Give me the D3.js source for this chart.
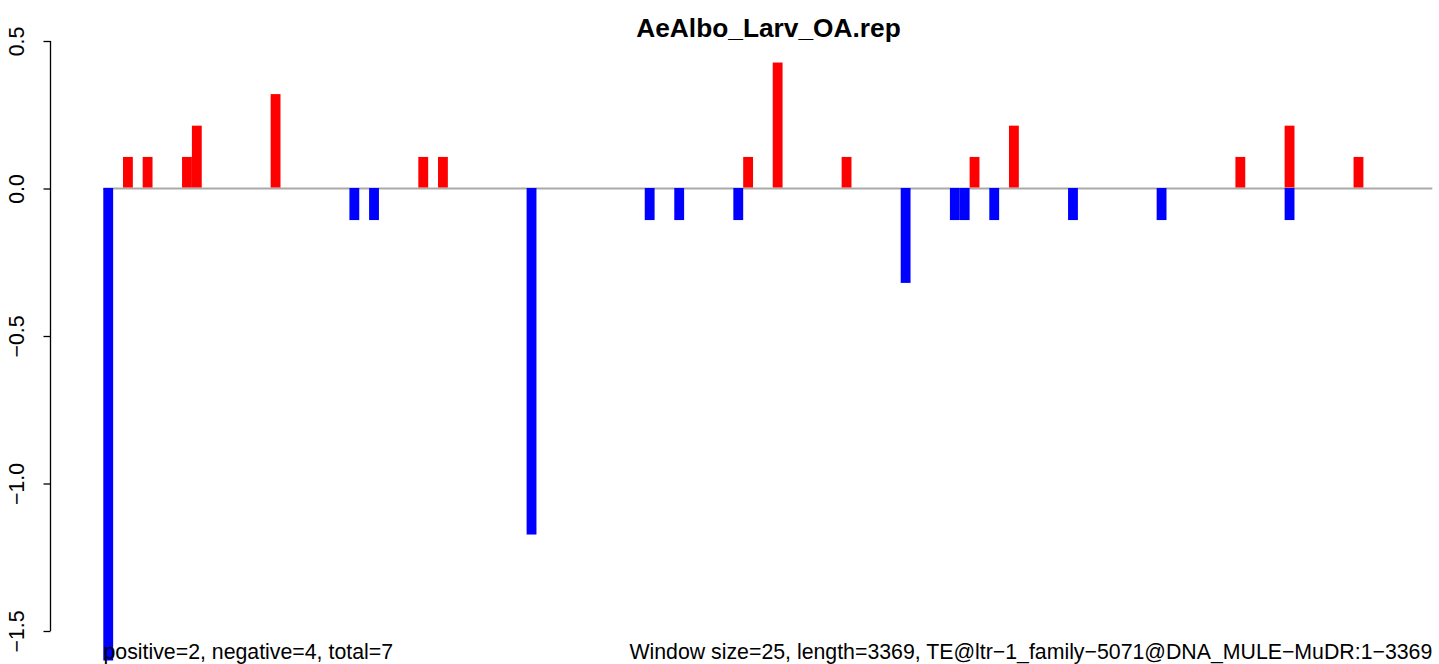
<!DOCTYPE html>
<html>
<head>
<meta charset="utf-8">
<script src="https://cdn.jsdelivr.net/npm/d3@7"></script>
<style>
  html, body { margin: 0; padding: 0; background: #fff; }
  svg { display: block; font-family: "Liberation Sans", Arial, Helvetica, sans-serif; }
</style>
</head>
<body>
<svg id="chart" width="1439" height="664"></svg>
<script>
// ---- data ----
const title = "AeAlbo_Larv_OA.rep";
const nWindows = 135;
const posIdx = [2, 4, 8, 9, 17, 32, 34, 65, 68, 75, 88, 92, 115, 120, 127];
const posVal = [0.107, 0.107, 0.107, 0.213, 0.32, 0.107, 0.107, 0.107, 0.427, 0.107, 0.107, 0.213, 0.107, 0.213, 0.107];
const negIdx = [0, 25, 27, 43, 55, 58, 64, 81, 86, 87, 90, 98, 107, 120];
const negVal = [-1.6, -0.107, -0.107, -1.173, -0.107, -0.107, -0.107, -0.32, -0.107, -0.107, -0.107, -0.107, -0.107, -0.107];
const yTicks = [0.5, 0.0, -0.5, -1.0, -1.5];
const leftNote = "positive=2, negative=4, total=7";
const rightNote = "Window size=25, length=3369, TE@ltr\u22121_family\u22125071@DNA_MULE\u2212MuDR:1\u22123369";

// ---- layout ----
const svg = d3.select("#chart");
const x = d3.scaleLinear().domain([0, nWindows]).range([103.3, 1432.3]);
const y = d3.scaleLinear().domain([-1.5, 0.5]).range([631, 41]);

svg.append("defs").append("clipPath").attr("id", "plotclip")
  .append("rect").attr("x", 0).attr("y", 0).attr("width", 1439).attr("height", 664);

// baseline
svg.append("line")
  .attr("x1", x(0)).attr("x2", x(nWindows))
  .attr("y1", y(0)).attr("y2", y(0))
  .attr("stroke", "#a9a9a9").attr("stroke-width", 2);

const g = svg.append("g").attr("clip-path", "url(#plotclip)");
const pos = posIdx.map((d, i) => ({ i: d, v: posVal[i] }));
const neg = negIdx.map((d, i) => ({ i: d, v: negVal[i] }));

g.selectAll("rect.pos").data(pos).enter().append("rect")
  .attr("class", "pos")
  .attr("x", d => x(d.i)).attr("width", d => x(d.i + 1) - x(d.i))
  .attr("y", d => y(d.v)).attr("height", d => y(0) - y(d.v) - 1)
  .attr("fill", "#ff0000");

g.selectAll("rect.neg").data(neg).enter().append("rect")
  .attr("class", "neg")
  .attr("x", d => x(d.i)).attr("width", d => x(d.i + 1) - x(d.i))
  .attr("y", y(0) - 0.5).attr("height", d => y(d.v) - y(0) + 0.5)
  .attr("fill", "#0000ff");

// y axis
const axis = d3.axisLeft(y).tickValues(yTicks).tickSize(7)
  .tickFormat(d => d3.format(".1f")(d).replace("-", "\u2212"));
const ag = svg.append("g").attr("transform", "translate(50.5,0)").call(axis);
ag.select(".domain").attr("stroke", "#000").attr("stroke-width", 1.3)
  .attr("d", `M0,${y(0.5)}V${y(-1.5)}`);
ag.selectAll(".tick line").attr("stroke", "#000").attr("stroke-width", 1.3);
ag.selectAll(".tick text")
  .attr("x", 0).attr("y", 0).attr("dy", null)
  .attr("transform", "translate(-26.5,0) rotate(-90)")
  .attr("text-anchor", "middle")
  .attr("font-size", 21.3)
  .attr("font-family", "Liberation Sans, Arial, sans-serif")
  .attr("fill", "#000");

// title
svg.append("text").attr("x", 768.5).attr("y", 37)
  .attr("text-anchor", "middle")
  .attr("font-weight", "bold").attr("font-size", 26.3)
  .text(title);

// bottom notes
svg.append("text").attr("x", 103.5).attr("y", 659)
  .attr("font-size", 21.3).text(leftNote);
svg.append("text").attr("x", 1432.3).attr("y", 659)
  .attr("text-anchor", "end")
  .attr("font-size", 21.3).text(rightNote);
</script>
</body>
</html>
